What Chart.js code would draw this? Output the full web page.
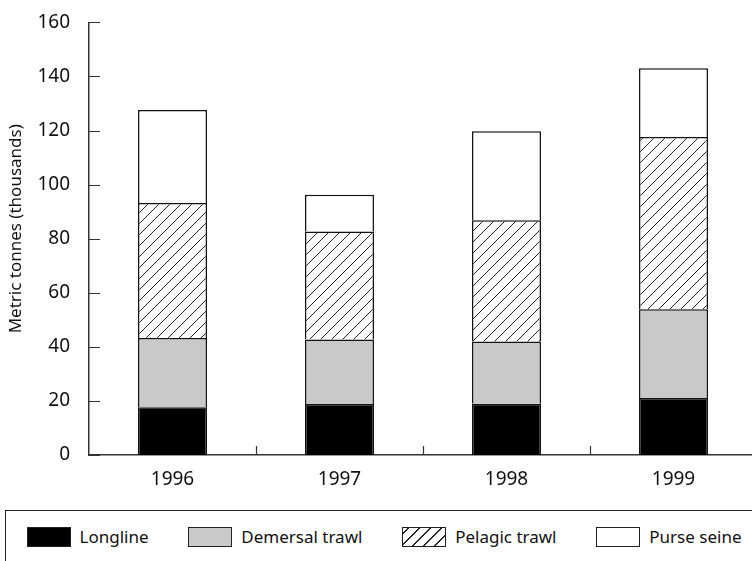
<!DOCTYPE html>
<html>
<head>
    <meta charset="UTF-8">
    <title>Catch by gear</title>
    <script src="https://cdn.jsdelivr.net/npm/chart.js@4/dist/chart.umd.min.js"></script>
    <style type="text/css">
        body {
            padding: 0px;
            margin: 0px;
            width: 752px;
            height: 561px;
            overflow: hidden;
            background: #fff;
            font-family: "Noto Sans", sans-serif;
        }
        #chartBox {
            position: absolute;
            left: 0px;
            top: 0px;
            width: 760px;
            height: 490px;
        }
        #legend {
            position: absolute;
            left: 5px;
            top: 510px;
            width: 800px;
            height: 80px;
            border-top: 1.5px solid #222;
            border-left: 1.5px solid #222;
        }
        #legend ul {
            list-style: none;
            margin: 0px;
            padding: 14px 0px 0px 20.5px;
            width: 715px;
            display: flex;
            justify-content: space-between;
        }
        #legend li {
            display: flex;
            align-items: center;
            font-size: 17px;
            color: #111;
        }
        #legend .sw {
            width: 42px;
            height: 18px;
            border: 1px solid #222;
            margin-right: 9px;
        }
    </style>
</head>
<body>

<div id="chartBox"><canvas id="myChart"></canvas></div>
<div id="legend"><ul></ul></div>

<script type="text/javascript">
    var years = ["1996", "1997", "1998", "1999"];
    var longline = [17.7, 18.9, 19.0, 21.1];
    var demersal = [25.6, 23.8, 23.0, 32.8];
    var pelagic = [49.9, 40.0, 44.8, 63.7];
    var purse = [34.4, 13.6, 32.9, 25.4];
    var yTicks = [0, 20, 40, 60, 80, 100, 120, 140, 160];

    var ink = "#111";

    // diagonal hatch for the pelagic trawl bars
    function makeHatch() {
        var s = 11;
        var c = document.createElement("canvas");
        c.width = s;
        c.height = s;
        var g = c.getContext("2d");
        g.fillStyle = "#fff";
        g.fillRect(0, 0, s, s);
        g.strokeStyle = "#222";
        g.lineWidth = 1;
        g.beginPath();
        g.moveTo(-1, s + 1); g.lineTo(s + 1, -1);
        g.moveTo(-2, 2); g.lineTo(2, -2);
        g.moveTo(s - 2, s + 2); g.lineTo(s + 2, s - 2);
        g.stroke();
        return g.createPattern(c, "repeat");
    }

    var ctx = document.getElementById("myChart").getContext("2d");
    var hatch = makeHatch();

    var series = [
        { label: "Longline", data: longline, color: "#000", css: "#000" },
        { label: "Demersal trawl", data: demersal, color: "#c9c9c9", css: "#c9c9c9" },
        { label: "Pelagic trawl", data: pelagic, color: hatch,
          css: "repeating-linear-gradient(-45deg, #fff 0px, #fff 6.8px, #222 6.8px, #222 7.8px)" },
        { label: "Purse seine", data: purse, color: "#fff", css: "#fff" }
    ];

    // inward tick marks, as on the original
    var innerTicks = {
        id: "innerTicks",
        afterDraw: function (chart) {
            var g = chart.ctx;
            var xs = chart.scales.x, ys = chart.scales.y;
            var area = chart.chartArea;
            g.save();
            g.strokeStyle = "#333";
            g.lineWidth = 1.2;
            g.beginPath();
            ys.ticks.forEach(function (t) {
                var y = Math.round(ys.getPixelForValue(t.value)) + 0.5;
                g.moveTo(area.left, y);
                g.lineTo(area.left + 11, y);
            });
            for (var i = 1; i < years.length; i++) {
                var x = Math.round((xs.getPixelForValue(i - 1) + xs.getPixelForValue(i)) / 2) + 0.5;
                g.moveTo(x, area.bottom);
                g.lineTo(x, area.bottom - 9);
            }
            g.stroke();
            g.restore();
        }
    };

    var chart = new Chart(ctx, {
        type: "bar",
        data: {
            labels: years,
            datasets: series.map(function (s) {
                return {
                    label: s.label,
                    data: s.data,
                    backgroundColor: s.color,
                    borderColor: ink,
                    borderWidth: 1.5,
                    borderSkipped: "start",
                    categoryPercentage: 1,
                    barPercentage: 0.413
                };
            })
        },
        options: {
            responsive: true,
            maintainAspectRatio: false,
            animation: false,
            layout: { padding: { left: 0, top: 16, right: 3, bottom: 0 } },
            plugins: {
                legend: { display: false },
                tooltip: { enabled: false }
            },
            scales: {
                x: {
                    stacked: true,
                    grid: { display: false },
                    border: { color: "#333", width: 1.5 },
                    ticks: { padding: 5, color: ink, font: { family: "Noto Sans", size: 19 } },
                    afterFit: function (s) { s.height = 35; }
                },
                y: {
                    stacked: true,
                    min: 0,
                    max: 160,
                    afterBuildTicks: function (s) {
                        s.ticks = yTicks.map(function (v) { return { value: v }; });
                    },
                    grid: { display: false },
                    border: { color: "#333", width: 1.5 },
                    ticks: { padding: 11, color: ink, font: { family: "Noto Sans", size: 19 } },
                    title: {
                        display: true,
                        text: "\u2002\u2002\u2009Metric tonnes (thousands)",
                        color: ink,
                        font: { family: "Noto Sans", size: 17 },
                        padding: { top: 6, bottom: 0 }
                    },
                    afterFit: function (s) { s.width = 89; }
                }
            }
        },
        plugins: [innerTicks]
    });

    // legend drawn as html under the chart
    var ul = document.querySelector("#legend ul");
    series.forEach(function (s) {
        var li = document.createElement("li");
        var sw = document.createElement("span");
        sw.className = "sw";
        sw.style.background = s.css;
        li.appendChild(sw);
        li.appendChild(document.createTextNode(s.label));
        ul.appendChild(li);
    });
</script>
</body>
</html>
